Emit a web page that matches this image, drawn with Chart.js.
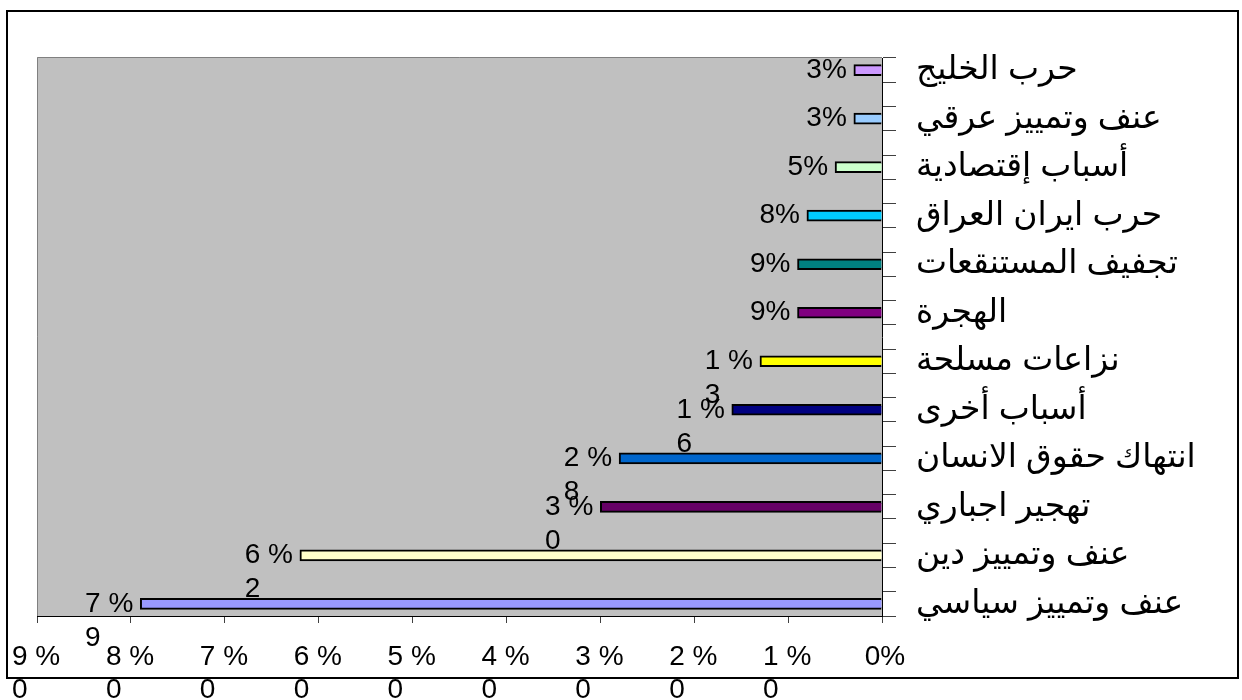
<!DOCTYPE html>
<html>
<head>
<meta charset="utf-8">
<script src="https://cdn.jsdelivr.net/npm/chart.js@4.4.1/dist/chart.umd.min.js"></script>
<style>
  body { margin: 0; background: #fff; }
  #frame {
    position: absolute; left: 6px; top: 10px; width: 1233px; height: 669px;
    box-sizing: border-box; border: 2px solid #000;
  }
  #chart { position: absolute; left: 0; top: 0; }
</style>
</head>
<body>
<div id="frame"></div>
<canvas id="chart" width="1242" height="700"></canvas>
<script>
// categories, top to bottom
const categories = [
  "حرب الخليج",
  "عنف وتمييز عرقي",
  "أسباب إقتصادية",
  "حرب ايران العراق",
  "تجفيف المستنقعات",
  "الهجرة",
  "نزاعات مسلحة",
  "أسباب أخرى",
  "انتهاك حقوق الانسان",
  "تهجير اجباري",
  "عنف وتمييز دين",
  "عنف وتمييز سياسي"
];
const percentages = [3, 3, 5, 8, 9, 9, 13, 16, 28, 30, 62, 79];
const barColors = [
  "#CC99FF", "#99CCFF", "#CCFFCC", "#00CCFF", "#008080", "#800080",
  "#FFFF00", "#000080", "#0066CC", "#660066", "#FFFFCC", "#9999FF"
];
const xTickLabels = [
  " 0%", ["1 %", "0"], ["2 %", "0"], ["3 %", "0"], ["4 %", "0"],
  ["5 %", "0"], ["6 %", "0"], ["7 %", "0"], ["8 %", "0"], ["9 %", "0"]
];

// the sheet leaves an empty slot between every two categories
const slotLabels = [];
const slotValues = [];
const slotColors = [];
categories.forEach((c, i) => {
  if (i > 0) { slotLabels.push(""); slotValues.push(null); slotColors.push("rgba(0,0,0,0)"); }
  slotLabels.push(c);
  slotValues.push(percentages[i]);
  slotColors.push(barColors[i]);
});

const digitFont = "28px 'Liberation Sans', Arial, sans-serif";

function labelLines(v) {
  const s = String(v);
  if (s.length < 2) return [s + "%"];
  return [s[0] + " %", s.slice(1)];
}

const plotBackground = {
  id: "plotBackground",
  beforeDraw(chart) {
    const { ctx, chartArea: a } = chart;
    const top = a.top - 1;
    ctx.save();
    ctx.fillStyle = "#C0C0C0";
    ctx.fillRect(a.left, top, a.right - a.left, a.bottom - top);
    ctx.strokeStyle = "#808080";
    ctx.lineWidth = 1;
    ctx.beginPath();
    ctx.moveTo(a.left + 0.5, a.bottom);
    ctx.lineTo(a.left + 0.5, top + 0.5);
    ctx.lineTo(a.right, top + 0.5);
    ctx.stroke();
    ctx.restore();
  }
};

const barLabels = {
  id: "barLabels",
  afterDatasetsDraw(chart) {
    const ctx = chart.ctx;
    const meta = chart.getDatasetMeta(0);
    ctx.save();
    ctx.font = digitFont;
    ctx.fillStyle = "#000";
    ctx.textBaseline = "middle";
    meta.data.forEach((bar, i) => {
      const v = slotValues[i];
      if (v == null) return;
      const lines = labelLines(v);
      const right = bar.x - 7;
      const w = ctx.measureText(lines[0]).width;
      ctx.textAlign = "left";
      ctx.fillText(lines[0], right - w, bar.y);
      if (lines[1]) ctx.fillText(lines[1], right - w, bar.y + 34);
    });
    ctx.restore();
  }
};

new Chart(document.getElementById("chart"), {
  type: "bar",
  data: {
    labels: slotLabels,
    datasets: [{
      data: slotValues,
      backgroundColor: slotColors,
      borderColor: "#000",
      borderWidth: 2,
      barThickness: 11
    }]
  },
  options: {
    indexAxis: "y",
    responsive: false,
    animation: false,
    layout: { padding: { left: 37, top: 58, right: 0, bottom: 0 } },
    plugins: { legend: { display: false }, tooltip: { enabled: false } },
    scales: {
      x: {
        type: "linear",
        reverse: true,
        min: 0,
        max: 90,
        afterFit(scale) { scale.height = 84; },
        grid: { drawOnChartArea: false, tickLength: 7, color: "#404040" },
        border: { color: "#000", width: 1 },
        ticks: {
          stepSize: 10,
          autoSkip: false,
          maxRotation: 0,
          align: "start",
          labelOffset: -25,
          padding: 17,
          color: "#000",
          font: { family: "'Liberation Sans', Arial, sans-serif", size: 28 },
          callback: (v) => xTickLabels[Math.round(v / 10)]
        }
      },
      y: {
        position: "right",
        afterFit(scale) { scale.width = 360; },
        grid: { drawOnChartArea: false, tickLength: 14, color: "#404040", offset: true },
        border: { color: "#000", width: 1 },
        ticks: {
          autoSkip: false,
          padding: 20,
          color: "#000",
          font: { family: "'Liberation Sans', 'DejaVu Sans', sans-serif", size: 33 }
        }
      }
    }
  },
  plugins: [plotBackground, barLabels]
});
</script>
</body>
</html>
